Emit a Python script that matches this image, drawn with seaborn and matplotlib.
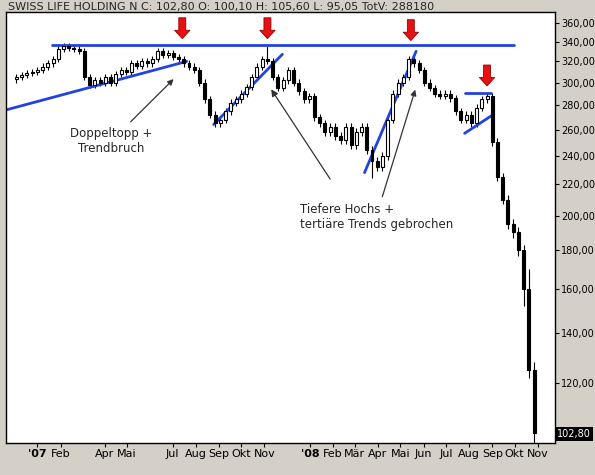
import numpy as np
import pandas as pd
import seaborn as sns
import matplotlib.pyplot as plt
import matplotlib.dates as mdates
from matplotlib.ticker import FixedLocator, NullLocator

# weekly closes, Dec 2006 - Oct 2008
closes = [305, 307, 309, 310,
          312, 315, 318, 322, 332,
          335, 333, 332, 330,
          305, 298, 302, 300,
          305, 300, 308, 312, 310,
          318, 316, 320, 318,
          322, 330, 326, 328,
          324, 322, 318, 315, 312,
          300, 285, 272, 265,
          268, 275, 282, 285,
          290, 296, 305, 315, 322,
          320, 305, 295, 302,
          312, 300, 292, 285, 288,
          270, 265, 258, 262,
          255, 252, 262, 248,
          258, 262, 244, 236, 232,
          240, 268, 290, 300,
          305, 322, 318, 312,
          300, 295, 290, 288, 290,
          286, 275, 268, 272,
          265, 278, 285, 288,
          250, 225, 210, 195, 190,
          180, 160, 125, 103]
first_open = 303
wick_up = [3] * 100
wick_dn = [3] * 100
wick_up[48] = 14   # Nov 07 spike
wick_dn[68] = 12   # Mar 08 spike
wick_dn[97] = 8
wick_up[98] = 10
wick_dn[99] = 8

yticks = [120, 140, 160, 180, 200, 220, 240, 260, 280, 300, 320, 340, 360]
month_ticks = ["2007-01-01", "2007-02-01", "2007-04-01", "2007-05-01", "2007-07-01",
               "2007-08-01", "2007-09-01", "2007-10-01", "2007-11-01", "2008-01-01",
               "2008-02-01", "2008-03-01", "2008-04-01", "2008-05-01", "2008-06-01",
               "2008-07-01", "2008-08-01", "2008-09-01", "2008-10-01", "2008-11-01"]
month_labels = ["'07", "Feb", "Apr", "Mai", "Jul", "Aug", "Sep", "Okt", "Nov", "'08",
                "Feb", "Mär", "Apr", "Mai", "Jun", "Jul", "Aug", "Sep", "Okt", "Nov"]

dates = pd.date_range("2006-12-04", periods=len(closes), freq="7D")
df = pd.DataFrame({"date": dates, "close": closes})
df["open"] = [first_open] + closes[:-1]
df["high"] = df[["open", "close"]].max(axis=1) + wick_up
df["low"] = df[["open", "close"]].min(axis=1) - wick_dn
df["x"] = mdates.date2num(df["date"])

sns.set_style("white")
plt.rcParams['font.family'] = ['DejaVu Sans']
fig = plt.figure(figsize=(5.95, 4.75), dpi=100)
fig.patch.set_facecolor("#d4d0c8")
ax = fig.add_axes([6/595, 32/475, 549/595, 431/475])
ax.set_facecolor("white")

ax.vlines(df["x"], df["low"], df["high"], color="black", lw=0.8, zorder=2)
up = df["close"] >= df["open"]
ax.bar(df["x"][up], (df["close"] - df["open"])[up], bottom=df["open"][up], width=4,
       color="white", edgecolor="black", lw=0.8, zorder=3)
ax.bar(df["x"][~up], (df["open"] - df["close"])[~up], bottom=df["close"][~up], width=4,
       color="black", edgecolor="black", lw=0.8, zorder=3)

d = lambda s: mdates.date2num(pd.Timestamp(s))
blue = "#2343e0"
ax.plot([d("2007-01-20"), d("2008-09-30")], [336, 336], color=blue, lw=2)
ax.plot([d("2006-11-20"), d("2007-07-20")], [276, 320], color=blue, lw=2)
ax.plot([d("2007-08-25"), d("2007-11-25")], [264, 327], color=blue, lw=2)
ax.plot([d("2008-03-14"), d("2008-05-22")], [228, 330], color=blue, lw=2)
ax.plot([d("2008-07-26"), d("2008-08-30")], [291, 291], color=blue, lw=2)
ax.plot([d("2008-07-26"), d("2008-09-02")], [257, 272], color=blue, lw=2)

for s, y in [("2007-07-14", 343), ("2007-11-05", 343), ("2008-05-15", 341), ("2008-08-25", 297)]:
    ax.annotate("", xy=(d(s), y), xycoords="data", xytext=(0, 15), textcoords="offset points",
                arrowprops=dict(arrowstyle="simple,head_width=1.1,head_length=0.6,tail_width=0.5",
                                fc="#e81010", ec="#900000", lw=0.6, shrinkA=0, shrinkB=0))

arrow = dict(arrowstyle="-|>", color="#333333", lw=0.9)
ax.annotate("Doppeltopp +\nTrendbruch", xy=(d("2007-07-05"), 305), xytext=(d("2007-04-10"), 262),
            fontsize=8.5, ha="center", va="top", arrowprops=arrow)
ax.annotate("Tiefere Hochs +\ntertiäre Trends gebrochen", xy=(d("2008-05-22"), 296),
            xytext=(d("2007-12-18"), 208), fontsize=8.5, ha="left", va="top", arrowprops=arrow)
ax.annotate("", xy=(d("2007-11-08"), 296), xytext=(d("2008-01-30"), 222),
            arrowprops=dict(arrowstyle="-|>", color="#333333", lw=0.9))

ax.set_yscale("log")
ax.set_ylim(100, 372)
ax.set_xlim(d("2006-11-20"), d("2008-11-24"))
ax.yaxis.tick_right()
ax.yaxis.set_major_locator(FixedLocator(yticks))
ax.yaxis.set_minor_locator(NullLocator())
ax.set_yticklabels([f"{v},00" for v in yticks], fontsize=7)
ax.set_xticks([d(s) for s in month_ticks])
ax.set_xticklabels(month_labels, fontsize=8)
for lab in ax.get_xticklabels():
    if lab.get_text().startswith("'"):
        lab.set_fontweight("bold")
ax.tick_params(axis="both", length=3, pad=1.5, direction="out", colors="black")
ax.tick_params(bottom=True, right=True)
for sp in ax.spines.values():
    sp.set_color("black")
    sp.set_linewidth(1)

ax.text(1.004, 102.8, "102,80", transform=ax.get_yaxis_transform(), fontsize=7,
        color="white", va="center", ha="left",
        bbox=dict(facecolor="black", edgecolor="none", pad=1.2))
fig.text(8/595, 1 - 7/475, "SWISS LIFE HOLDING N C: 102,80 O: 100,10 H: 105,60 L: 95,05 TotV: 288180",
         fontsize=8, va="center", ha="left")

fig.savefig("out.png", dpi=100)
